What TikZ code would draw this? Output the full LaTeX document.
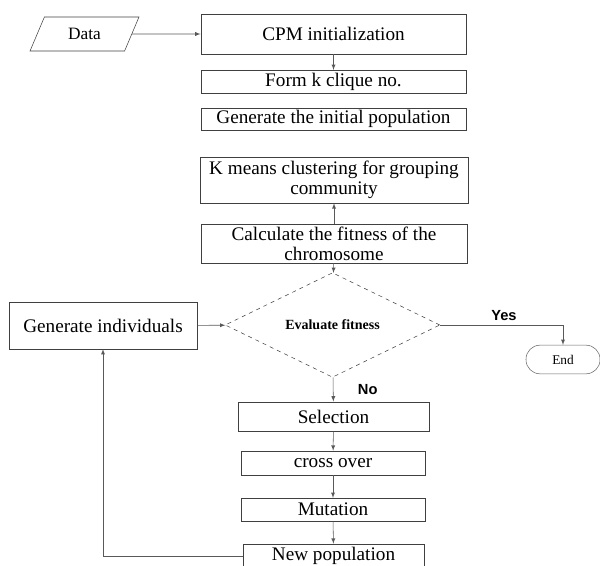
\documentclass[tikz,border=0pt]{standalone}
\usepackage{fontspec}
\setmainfont{Liberation Serif}
\setsansfont{Liberation Sans}
\usetikzlibrary{shapes.geometric}

\begin{document}
\begin{tikzpicture}[x=0.75pt,y=-0.75pt,
		box/.style={draw=black!75,rectangle,inner sep=0pt,align=center,font=\fontsize{14.4}{15}\selectfont},
		line/.style={draw=black!65,-latex},
		lbl/.style={font=\sffamily\bfseries\fontsize{11}{12}\selectfont,text=black}]
		\useasboundingbox (0,0) rectangle (600,566);
		
		\node[draw=black!75,trapezium,trapezium left angle=63,trapezium right angle=117,trapezium stretches=true,minimum width=82pt,minimum height=25.5pt,inner sep=0pt,font=\fontsize{13}{14}\selectfont] (data) at (84.5,34) {Data};
		\node[box,minimum width=199pt,minimum height=30pt] (cpm) at (333.5,34) {CPM initialization};
		\node[box,minimum width=199pt,minimum height=17pt] (form) at (333.5,81.5) {Form k clique no.};
		\node[box,minimum width=199pt,minimum height=16.5pt] (init) at (333.5,119) {Generate the initial population};
		\node[box,minimum width=201pt,minimum height=34.5pt] (kmeans) at (334,180) {K means clustering for grouping\\community};
		\node[box,minimum width=199.5pt,minimum height=29pt] (calc) at (334,243.5) {Calculate the fitness of the\\chromosome};
		\node[draw=black!75,dashed,diamond,inner sep=0pt,minimum width=161pt,minimum height=55.5pt,font=\bfseries\fontsize{10.5}{11}\selectfont] (eval) at (332.5,325) {Evaluate fitness};
		\node[box,minimum width=141pt,minimum height=35pt] (indiv) at (103,325.5) {Generate individuals};
		\node[draw=black!60,rounded corners=10.5pt,minimum width=55.5pt,minimum height=21.5pt,inner sep=0pt,font=\fontsize{10}{11}\selectfont] (end) at (563,359.5) {End};
		\node[box,minimum width=143pt,minimum height=22pt] (sel) at (333.5,416.5) {Selection};
		\node[box,minimum width=138pt,minimum height=18pt] (cross) at (333,463) {cross over};
		\node[box,minimum width=138pt,minimum height=17pt] (mut) at (333,509.5) {Mutation};
		\node[box,minimum width=136pt,minimum height=18pt] (newpop) at (333.5,556) {New population};
		
		\draw[line] (data) -- (cpm);
		\draw[line] (cpm) -- (form);
		\draw[line] (calc) -- (kmeans);
		\draw[line] (calc) -- (eval);
		\draw[line] (indiv) -- (eval);
		\draw[line] (eval.east) -| (end.north) node[pos=0.26,above,lbl]{Yes};
		\draw[line] (eval) -- (sel) node[pos=0.5,right=15pt,lbl]{No};
		\foreach \a/\b in {sel/cross, cross/mut, mut/newpop}{
			\draw[line] (\a) -- (\b);
		}
		\draw[line] (newpop.west) -| (indiv.south);
	\end{tikzpicture}
\end{document}
